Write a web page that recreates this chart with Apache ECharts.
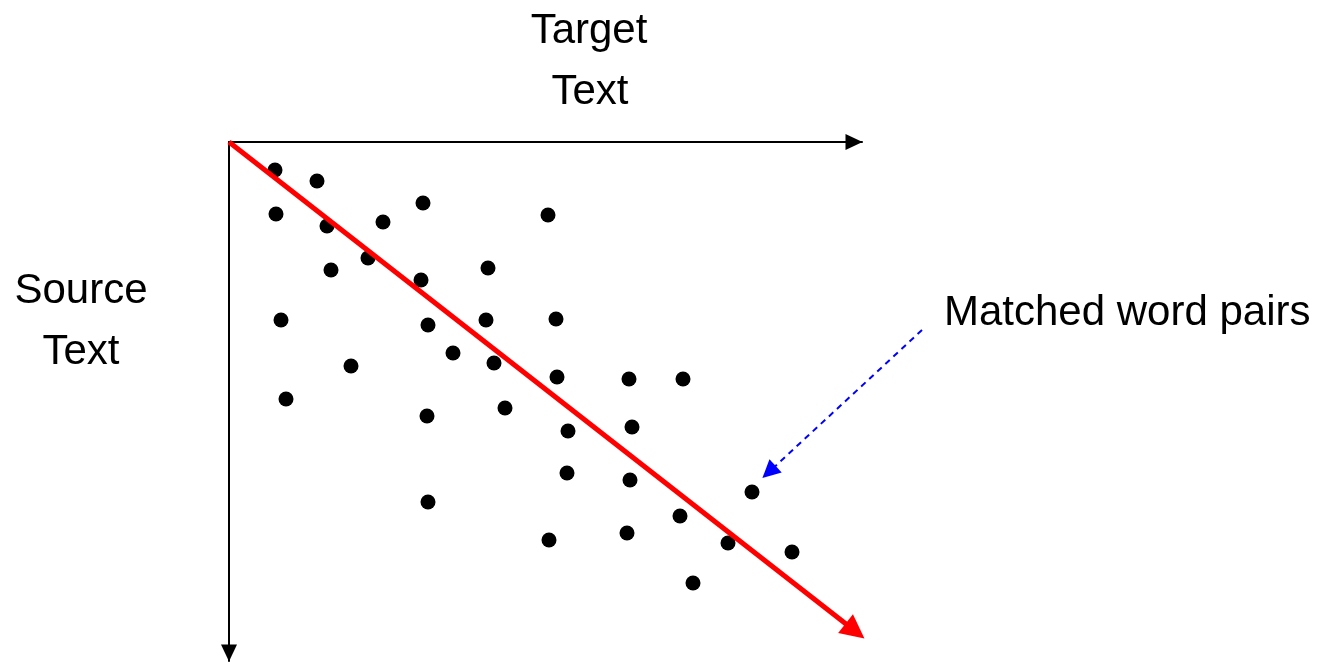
<!DOCTYPE html>
<html>
<head>
<meta charset="utf-8">
<script src="https://cdn.jsdelivr.net/npm/echarts@6/dist/echarts.min.js"></script>
<style>html,body{margin:0;padding:0;background:#fff;}#c{width:1321px;height:662px;}</style>
</head>
<body>
<div id="c"></div>
<script>
// Matched word pairs: position along target text (x) and source text (y)
const targetPos = [46, 88, 47, 98, 154, 194, 319, 102, 139, 192, 259, 52, 199, 257, 327, 224, 122, 265, 328, 400, 454, 57, 198, 276, 339, 403, 338, 401, 523, 199, 451, 320, 398, 499, 563, 464];
const sourcePos = [28, 39, 72, 84, 80, 61, 73, 128, 116, 138, 126, 178, 183, 178, 177, 211, 224, 221, 235, 237, 237, 257, 274, 266, 289, 285, 331, 338, 350, 360, 374, 398, 391, 401, 410, 441];
// Diagonal alignment line (start, end) in target/source units
const diagonalTarget = [0, 626];
const diagonalSource = [0, 489];
// Annotation arrow in page units (start, end)
const noteArrowX = [922, 769];
const noteArrowY = [330, 472];
const axisMaxTarget = 633;
const axisMaxSource = 519;

const points = targetPos.map((x, i) => [x, sourcePos[i]]);
const font = "'Liberation Sans', Arial, sans-serif";
const fs = 42;

const chart = echarts.init(document.getElementById('c'), null, {renderer: 'canvas'});
chart.setOption({
  animation: false,
  backgroundColor: '#fff',
  grid: [
    {left: 229, top: 142, width: axisMaxTarget, height: axisMaxSource, containLabel: false},
    {left: 0, top: 0, width: 1321, height: 662, containLabel: false}
  ],
  xAxis: [
    {
      gridIndex: 0, type: 'value', position: 'top', min: 0, max: axisMaxTarget,
      axisLine: {show: true, onZero: false, symbol: ['none', 'triangle'], symbolSize: [16, 17], symbolOffset: [0, -8],
        lineStyle: {color: '#000', width: 2}},
      axisTick: {show: false}, axisLabel: {show: false}, splitLine: {show: false}
    },
    {gridIndex: 1, type: 'value', min: 0, max: 1321, show: false}
  ],
  yAxis: [
    {
      gridIndex: 0, type: 'value', inverse: true, min: 0, max: axisMaxSource,
      axisLine: {show: true, onZero: false, symbol: ['triangle', 'none'], symbolSize: [16, 17], symbolOffset: [8, 0],
        lineStyle: {color: '#000', width: 2}},
      axisTick: {show: false}, axisLabel: {show: false}, splitLine: {show: false}
    },
    {gridIndex: 1, type: 'value', inverse: true, min: 0, max: 662, show: false}
  ],
  series: [
    {
      type: 'scatter', xAxisIndex: 0, yAxisIndex: 0,
      data: points, symbol: 'circle', symbolSize: 15,
      itemStyle: {color: '#000', opacity: 1},
      silent: true,
      markLine: {
        silent: true, animation: false,
        symbol: ['none', 'triangle'], symbolSize: 24,
        label: {show: false},
        lineStyle: {color: '#ff0000', width: 5, type: 'solid', opacity: 1},
        emphasis: {disabled: true},
        data: [[{coord: [diagonalTarget[0], diagonalSource[0]]}, {coord: [diagonalTarget[1], diagonalSource[1]]}]]
      }
    },
    {
      type: 'scatter', xAxisIndex: 1, yAxisIndex: 1, data: [], silent: true,
      markLine: {
        silent: true, animation: false,
        symbol: ['none', 'triangle'], symbolSize: 18,
        label: {show: false},
        lineStyle: {color: '#0000ff', width: 2, type: [6, 5], opacity: 1},
        emphasis: {disabled: true},
        data: [[{coord: [noteArrowX[0], noteArrowY[0]]}, {coord: [noteArrowX[1], noteArrowY[1]]}]]
      }
    }
  ],
  graphic: [
    {type: 'text', style: {text: 'Target', x: 589, y: 31, fontSize: fs, fontFamily: font, fill: '#000', align: 'center', verticalAlign: 'middle'}},
    {type: 'text', style: {text: 'Text', x: 590, y: 92, fontSize: fs, fontFamily: font, fill: '#000', align: 'center', verticalAlign: 'middle'}},
    {type: 'text', style: {text: 'Source', x: 81, y: 291, fontSize: fs, fontFamily: font, fill: '#000', align: 'center', verticalAlign: 'middle'}},
    {type: 'text', style: {text: 'Text', x: 81, y: 352, fontSize: fs, fontFamily: font, fill: '#000', align: 'center', verticalAlign: 'middle'}},
    {type: 'text', style: {text: 'Matched word pairs', x: 944, y: 313, fontSize: fs, fontFamily: font, fill: '#000', align: 'left', verticalAlign: 'middle'}}
  ]
});
</script>
</body>
</html>
